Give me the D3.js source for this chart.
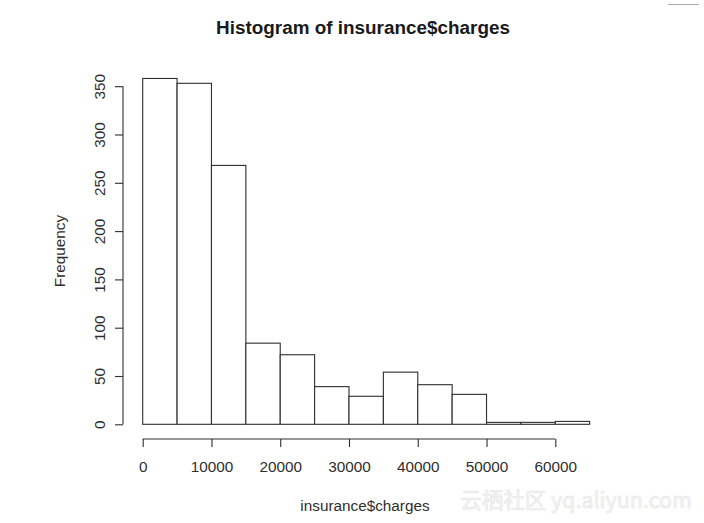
<!DOCTYPE html>
<html>
<head>
<meta charset="utf-8">
<script src="https://cdn.jsdelivr.net/npm/d3@7/dist/d3.min.js"></script>
<style>
html,body{margin:0;padding:0;background:#fff;}
svg{display:block;}
</style>
</head>
<body>
<svg id="chart" width="704" height="523"></svg>
<script>
const binStarts = [0,5000,10000,15000,20000,25000,30000,35000,40000,45000,50000,55000,60000];
const binWidth = 5000;
const counts = [358,353,268,84,72,39,29,54,41,31,2,2,3];
const xTicks = [0,10000,20000,30000,40000,50000,60000];
const yTicks = [0,50,100,150,200,250,300,350];
const title = "Histogram of insurance$charges";
const xLabel = "insurance$charges";
const yLabel = "Frequency";
const watermark = "云栖社区 yq.aliyun.com";

const svg = d3.select("#chart");
const font = "'Liberation Sans', Arial, Helvetica, sans-serif";
const x = d3.scaleLinear().domain([0,60000]).range([142.7,555.3]);
const y = d3.scaleLinear().domain([0,350]).range([424.3,86.2]);
const ink = "#2e2e2e";
const fs = 15.3;

// bars
svg.append("g").selectAll("rect").data(binStarts).join("rect")
  .attr("x", (d)=>x(d))
  .attr("y", (d,i)=>y(counts[i]))
  .attr("width", (d)=>x(d+binWidth)-x(d))
  .attr("height", (d,i)=>y(0)-y(counts[i]))
  .attr("fill","#fff")
  .attr("stroke",ink)
  .attr("stroke-width",1.1);

// x axis
const xAxis = svg.append("g").attr("transform","translate(0,439)")
  .call(d3.axisBottom(x).tickValues(xTicks).tickSize(8).tickPadding(14).tickFormat(d3.format("d")));
xAxis.select(".domain").attr("d",`M${x(0)},0H${x(60000)}`).attr("stroke",ink).attr("stroke-width",1.1);
xAxis.selectAll(".tick line").attr("stroke",ink).attr("stroke-width",1.1);
xAxis.selectAll(".tick text").attr("font-family",font).attr("font-size",fs).attr("fill",ink);

// y axis
const yAxis = svg.append("g").attr("transform","translate(123,0)")
  .call(d3.axisLeft(y).tickValues(yTicks).tickSize(8).tickPadding(0).tickFormat(d3.format("d")));
yAxis.select(".domain").attr("d",`M0,${y(0)}V${y(350)}`).attr("stroke",ink).attr("stroke-width",1.1);
yAxis.selectAll(".tick line").attr("stroke",ink).attr("stroke-width",1.1);
yAxis.selectAll(".tick text")
  .attr("font-family",font).attr("font-size",fs).attr("fill",ink)
  .attr("x",null).attr("dy",null)
  .attr("text-anchor","middle")
  .attr("transform","translate(-22,0) rotate(-90)")
  .attr("dominant-baseline","middle");

// title
svg.append("text").attr("x",363).attr("y",34).attr("text-anchor","middle")
  .attr("font-family",font).attr("font-weight","bold").attr("font-size",18.9).attr("fill","#1a1a1a")
  .text(title);

// x label
svg.append("text").attr("x",365).attr("y",511).attr("text-anchor","middle")
  .attr("font-family",font).attr("font-size",fs).attr("fill",ink).text(xLabel);

// y label
svg.append("text").attr("transform","translate(65,251) rotate(-90)").attr("text-anchor","middle")
  .attr("font-family",font).attr("font-size",fs).attr("fill",ink).text(yLabel);

// watermark
svg.append("text").attr("x",692).attr("y",508).attr("text-anchor","end")
  .attr("font-family","'Noto Sans CJK SC', 'Liberation Sans', sans-serif").attr("font-size",21.5)
  .attr("fill","#f5f5f5").attr("stroke","#e6e6e6").attr("stroke-width",0.6)
  .text(watermark);

// top-right small line
svg.append("line").attr("x1",668).attr("x2",699).attr("y1",4.5).attr("y2",4.5)
  .attr("stroke","#aaa").attr("stroke-width",1);
</script>
</body>
</html>
